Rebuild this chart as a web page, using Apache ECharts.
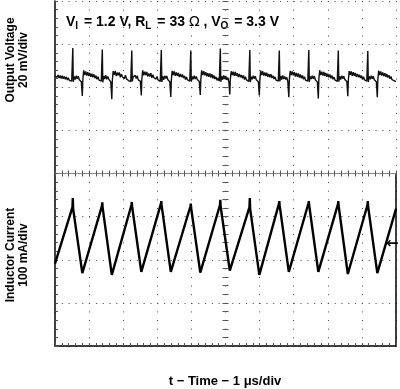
<!DOCTYPE html>
<html><head><meta charset="utf-8">
<script src="https://cdn.jsdelivr.net/npm/echarts/dist/echarts.min.js"></script>
<style>html,body{margin:0;padding:0;background:#fff}#c{width:400px;height:389px}</style>
</head><body><div id="c"></div>
<script>
// time axis: 0..10 µs (1 µs/div); voltage: 20 mV/div (ripple, mV); current: 100 mA/div (mA)
const timeRange = [0, 10];
const voltageRange = [-40, 40];
const currentRange = [0, 400];

const outputVoltage = [
 [0,5.2],[0.03,6.0],[0.06,4.6],[0.09,5.7],[0.12,4.3],[0.15,5.5],[0.18,4.1],[0.21,5.3],[0.24,3.9],[0.27,5.0],[0.30,3.7],[0.33,4.8],[0.36,3.4],[0.39,4.4],[0.42,3.2],[0.45,4.0],[0.49,2.8],
 [0.522,18.2],[0.537,2.5],[0.562,5.0],[0.592,3.6],[0.622,5.4],[0.652,3.9],[0.682,5.1],[0.712,3.5],[0.742,4.4],[0.772,2.6],[0.801,-4.0],
 [0.816,3.5],[0.841,7.8],[0.871,5.6],[0.901,7.3],[0.931,5.4],[0.961,7.0],[0.991,5.2],[1.021,6.6],[1.051,4.8],[1.081,6.3],[1.111,4.6],[1.141,6.0],[1.171,4.2],[1.201,5.4],[1.231,3.7],[1.261,4.9],[1.291,3.3],[1.321,4.2],[1.357,2.8],
 [1.387,17.5],[1.402,2.3],[1.427,5.2],[1.457,3.8],[1.487,5.6],[1.517,3.7],[1.547,5.0],[1.577,3.8],[1.607,4.6],[1.637,2.4],[1.666,-5.5],
 [1.681,3.2],[1.706,7.5],[1.736,5.8],[1.766,7.6],[1.796,5.2],[1.826,6.8],[1.856,5.5],[1.886,6.9],[1.916,4.6],[1.946,6.1],[1.976,4.9],[2.006,5.8],[2.036,4.0],[2.066,5.6],[2.096,3.9],[2.126,4.6],[2.156,3.1],[2.186,4.0],[2.222,2.6],
 [2.252,17.0],[2.267,2.7],[2.292,4.8],[2.322,3.9],[2.352,5.5],[2.382,4.0],[2.412,5.3],[2.442,3.4],[2.472,4.2],[2.502,2.8],[2.531,-3.8],
 [2.546,3.6],[2.571,7.9],[2.601,5.5],[2.631,7.2],[2.661,5.6],[2.691,7.1],[2.721,5.0],[2.751,6.4],[2.781,5.0],[2.811,6.5],[2.841,4.4],[2.871,5.8],[2.901,4.4],[2.931,5.2],[2.961,3.8],[2.991,5.0],[3.021,3.4],[3.051,4.1],[3.087,2.7],
 [3.117,17.3],[3.132,2.4],[3.157,5.1],[3.187,3.5],[3.217,5.3],[3.247,4.1],[3.277,5.2],[3.307,3.6],[3.337,4.5],[3.367,2.5],[3.396,-4.5],
 [3.411,3.3],[3.436,7.6],[3.466,5.7],[3.496,7.4],[3.526,5.3],[3.556,6.9],[3.586,5.3],[3.616,6.7],[3.646,4.7],[3.676,6.2],[3.706,4.7],[3.736,5.9],[3.766,4.3],[3.796,5.3],[3.826,3.6],[3.856,4.8],[3.886,3.4],[3.916,4.3],[3.952,2.9],
 [3.982,17.0],[3.997,2.6],[4.022,5.0],[4.052,3.7],[4.082,5.4],[4.112,3.8],[4.142,5.0],[4.172,3.6],[4.202,4.3],[4.232,2.7],[4.261,-3.6],
 [4.276,3.4],[4.301,7.8],[4.331,5.6],[4.361,7.5],[4.391,5.5],[4.421,7.0],[4.451,5.1],[4.481,6.5],[4.511,4.9],[4.541,6.4],[4.571,4.5],[4.601,6.1],[4.631,4.1],[4.661,5.5],[4.691,3.8],[4.721,4.8],[4.751,3.2],[4.781,4.3],[4.818,2.8],
 [4.848,18.0],[4.863,2.5],[4.888,5.1],[4.918,3.5],[4.948,5.5],[4.978,3.8],[5.008,5.2],[5.038,3.4],[5.068,4.5],[5.098,2.5],[5.126,-3.3],
 [5.141,3.5],[5.166,7.4],[5.196,5.7],[5.226,7.2],[5.256,5.3],[5.286,7.1],[5.316,5.3],[5.346,6.5],[5.376,4.7],[5.406,6.2],[5.436,4.6],[5.466,5.7],[5.496,4.2],[5.526,5.5],[5.556,3.6],[5.586,4.9],[5.616,3.4],[5.646,4.1],[5.683,2.7],
 [5.713,17.3],[5.728,2.4],[5.753,4.9],[5.783,3.7],[5.813,5.3],[5.843,4.0],[5.873,5.1],[5.903,3.5],[5.933,4.4],[5.963,2.6],[5.992,-3.8],
 [6.007,3.3],[6.032,7.7],[6.062,5.6],[6.092,7.4],[6.122,5.4],[6.152,6.9],[6.182,5.2],[6.212,6.7],[6.242,4.8],[6.272,6.2],[6.302,4.6],[6.332,6.0],[6.362,4.3],[6.392,5.3],[6.422,3.8],[6.452,4.8],[6.482,3.3],[6.512,4.2],[6.548,2.9],
 [6.578,17.0],[6.593,2.7],[6.618,5.2],[6.648,3.6],[6.678,5.5],[6.708,3.8],[6.738,5.0],[6.768,3.6],[6.798,4.6],[6.828,2.6],[6.857,-4.6],
 [6.872,3.4],[6.897,7.6],[6.927,5.7],[6.957,7.3],[6.987,5.5],[7.017,7.0],[7.047,5.0],[7.077,6.6],[7.107,4.9],[7.137,6.4],[7.167,4.5],[7.197,5.9],[7.227,4.2],[7.257,5.5],[7.287,3.7],[7.317,4.9],[7.347,3.3],[7.377,4.2],[7.413,2.8],
 [7.443,17.3],[7.458,2.5],[7.483,5.0],[7.513,3.8],[7.543,5.4],[7.573,3.9],[7.603,5.2],[7.633,3.5],[7.663,4.3],[7.693,2.5],[7.722,-5.2],
 [7.737,3.5],[7.762,7.9],[7.792,5.6],[7.822,7.2],[7.852,5.4],[7.882,7.1],[7.912,5.2],[7.942,6.6],[7.972,4.8],[8.002,6.3],[8.032,4.6],[8.062,5.9],[8.092,4.2],[8.122,5.4],[8.152,3.7],[8.182,4.7],[8.212,3.3],[8.242,4.1],[8.278,2.7],
 [8.308,17.0],[8.323,2.6],[8.348,5.1],[8.378,3.6],[8.408,5.3],[8.438,4.0],[8.468,5.1],[8.498,3.6],[8.528,4.5],[8.558,2.7],[8.587,-4.2],
 [8.602,3.3],[8.627,7.5],[8.657,5.8],[8.687,7.4],[8.717,5.3],[8.747,7.0],[8.777,5.3],[8.807,6.6],[8.837,4.8],[8.867,6.2],[8.897,4.7],[8.927,5.8],[8.957,4.3],[8.987,5.4],[9.017,3.7],[9.047,4.9],[9.077,3.4],[9.107,4.2],[9.143,2.8],
 [9.173,16.8],[9.188,2.4],[9.213,5.0],[9.243,3.7],[9.273,5.4],[9.303,3.9],[9.333,5.1],[9.363,3.5],[9.393,4.4],[9.423,2.6],[9.452,-4.6],
 [9.467,3.4],[9.492,7.7],[9.522,5.6],[9.552,7.3],[9.582,5.4],[9.612,6.9],[9.642,5.2],[9.672,6.5],[9.702,4.8],[9.732,6.1],[9.762,4.5],[9.792,5.6],[9.822,3.9],[9.852,5.0],[9.882,3.5],[9.912,4.4],[9.942,3.1],[9.972,3.8],[10,2.6]
];

const inductorCurrent = [
 [0,191],
 [0.512,322],[0.522,343],[0.532,318],[0.801,169],
 [1.377,325],[1.387,333],[1.397,321],[1.666,165],
 [2.242,327],[2.252,334],[2.262,323],[2.531,172],
 [3.107,330],[3.117,336],[3.127,326],[3.396,172],
 [3.972,324],[3.982,330],[3.992,320],[4.261,170],
 [4.838,327],[4.848,339],[4.858,323],[5.126,175],
 [5.703,322],[5.713,343],[5.723,318],[5.992,165],
 [6.568,330],[6.578,336],[6.588,326],[6.857,172],
 [7.433,331],[7.443,336],[7.453,327],[7.722,172],
 [8.298,329],[8.308,336],[8.318,325],[8.587,167],
 [9.163,327],[9.173,336],[9.183,323],[9.452,169],
 [10,318]
];

const yLabelTop = 'Output Voltage\n20 mV/div';
const yLabelBottom = 'Inductor Current\n100 mA/div';
const xLabel = 't \u2212 Time \u2212 1 \u03bcs/div';

const chart = echarts.init(document.getElementById('c'), null, {renderer:'canvas'});
const FONT = '"Liberation Sans", Arial, sans-serif';
const dotRow = {color:'#444', width:1, type:[1,5.82]};
const dotCol = {color:'#444', width:1, type:[1,7.62]};
const hidden = {show:false};
const noLine = {show:false, onZero:false};
function tickAxis(extra){
  return Object.assign({
    axisLabel: hidden,
    axisTick: {show:true, inside:true, length:3, lineStyle:{color:'#555'}},
    minorTick: {show:true, splitNumber:5, length:3, lineStyle:{color:'#555'}},
    splitLine: hidden
  }, extra);
}
const xBase = {type:'value', min:timeRange[0], max:timeRange[1], interval:1};
const vBase = {type:'value', min:voltageRange[0], max:voltageRange[1], interval:20};
const iBase = {type:'value', min:currentRange[0], max:currentRange[1], interval:100};

chart.setOption({
  animation:false,
  backgroundColor:'#fff',
  grid:[
    {left:55, top:1, width:341, height:172.5},
    {left:55, top:173.5, width:341, height:172.5}
  ],
  xAxis:[
    tickAxis(Object.assign({}, xBase, {gridIndex:0, position:'bottom',
      axisLine:{show:true, onZero:false, lineStyle:{color:'#888', width:1}},
      splitLine:{show:true, lineStyle:dotCol}})),
    tickAxis(Object.assign({}, xBase, {gridIndex:1, position:'top',
      axisLine:{show:true, onZero:false, lineStyle:{color:'#888', width:1}},
      splitLine:{show:true, lineStyle:dotCol}})),
    tickAxis(Object.assign({}, xBase, {gridIndex:1, position:'bottom',
      axisLine:{show:true, onZero:false, lineStyle:{color:'#000', width:1.5}}}))
  ],
  yAxis:[
    tickAxis(Object.assign({}, vBase, {gridIndex:0, position:'left',
      axisLine:{show:true, onZero:false, lineStyle:{color:'#000', width:1.5}},
      splitLine:{show:true, lineStyle:dotRow}})),
    tickAxis(Object.assign({}, vBase, {gridIndex:0, position:'left', offset:-170.5, axisLine:noLine})),
    tickAxis(Object.assign({}, vBase, {gridIndex:0, position:'right', offset:-170.5, axisLine:noLine})),
    tickAxis(Object.assign({}, iBase, {gridIndex:1, position:'left',
      axisLine:{show:true, onZero:false, lineStyle:{color:'#000', width:1.5}},
      splitLine:{show:true, lineStyle:dotRow}})),
    tickAxis(Object.assign({}, iBase, {gridIndex:1, position:'left', offset:-170.5, axisLine:noLine})),
    tickAxis(Object.assign({}, iBase, {gridIndex:1, position:'right', offset:-170.5, axisLine:noLine})),
    Object.assign({}, iBase, {gridIndex:1, position:'right', axisLabel:hidden, axisTick:hidden, splitLine:hidden,
      axisLine:{show:true, onZero:false, lineStyle:{color:'#000', width:1.5}}})
  ],
  series:[
    {name:'Output Voltage', type:'line', xAxisIndex:0, yAxisIndex:0, data:outputVoltage,
     showSymbol:false, lineStyle:{color:'#111', width:1.4}},
    {name:'Inductor Current', type:'line', xAxisIndex:2, yAxisIndex:3, data:inductorCurrent,
     showSymbol:false, lineStyle:{color:'#000', width:2.4}}
  ],
  graphic:[
    {type:'text', x:17, y:60, rotation:Math.PI/2,
     style:{text:yLabelTop, font:'bold 12px '+FONT, fill:'#000', textAlign:'center', textVerticalAlign:'middle', lineHeight:13}},
    {type:'text', x:17, y:255, rotation:Math.PI/2,
     style:{text:yLabelBottom, font:'bold 12px '+FONT, fill:'#000', textAlign:'center', textVerticalAlign:'middle', lineHeight:13}},
    {type:'text', x:225, y:381,
     style:{text:xLabel, font:'bold 13px '+FONT, fill:'#000', textAlign:'center', textVerticalAlign:'middle'}},
    {type:'text', x:66, y:22,
     style:{text:'{a|V}{s|I}{a| = 1.2 V, R}{s|L}{a| = 33 }{o|\u03a9}{a| , V}{s|O}{a| = 3.3 V}',
       textAlign:'left', textVerticalAlign:'middle', fill:'#000',
       rich:{
         a:{fontSize:14, fontWeight:'bold', fontFamily:FONT, fill:'#000'},
         s:{fontSize:10, fontWeight:'bold', fontFamily:FONT, fill:'#000', padding:[8,2,0,0]},
         o:{fontSize:14, fontFamily:'"DejaVu Sans", sans-serif', fill:'#000'}
       }}},
    {type:'text', x:386, y:244,
     style:{text:'\u2190', font:'bold 15px "DejaVu Sans", sans-serif', fill:'#000', textAlign:'left', textVerticalAlign:'middle'}}
  ]
});
</script></body></html>
